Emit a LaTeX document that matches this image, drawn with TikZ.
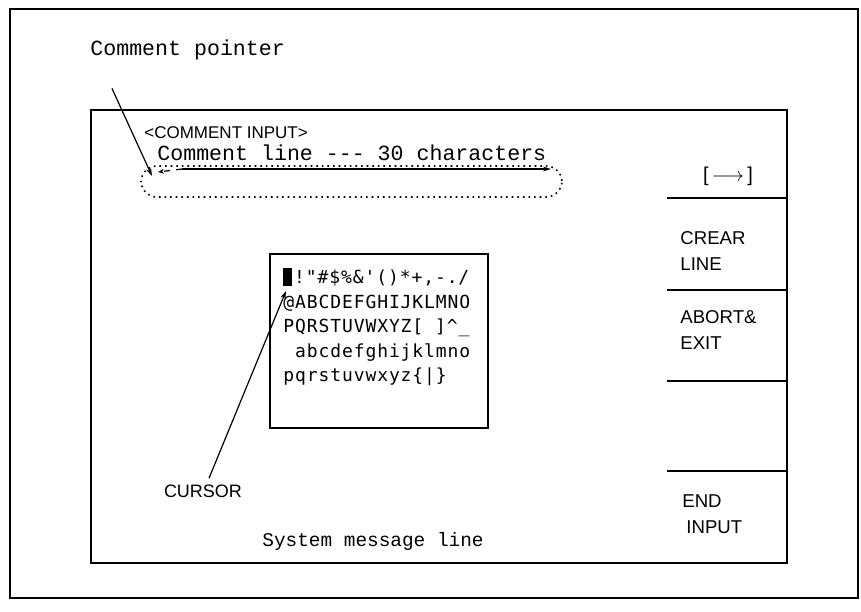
\documentclass[tikz,border=0pt]{standalone}
\usepackage{fontspec}
\setmainfont{Liberation Sans}
\newfontfamily\scrmono{Liberation Mono}
\newfontfamily\charmono[LetterSpace=5]{DejaVu Sans Mono}
\usetikzlibrary{arrows.meta, positioning}

\begin{document}
\begin{tikzpicture}[
  x=0.5pt, y=-0.5pt,
  frame/.style={draw, line width=1pt},
  keylabel/.style={inner sep=0pt, anchor=west, align=left, font=\fontsize{9.3}{13}\selectfont},
  monotext/.style={inner sep=0pt, anchor=west, font=\scrmono\fontsize{10.8}{12}\selectfont},
  chartable/.style={inner sep=0pt, anchor=north west, align=left, font=\charmono\fontsize{9}{12.2}\selectfont},
  ptr/.style={draw, line width=0.6pt, -{Stealth[length=4pt, width=2.6pt]}},
]
  \useasboundingbox (0,0) rectangle (861,611);
  % sheet and screen
  \draw[line width=1pt] (10,9) rectangle (858,598);
  \draw[frame] (91,110) rectangle (787,563);
  % function keys
  \foreach \ky in {198,290,381,471}
    \draw[line width=0.9pt] (667,\ky) -- (787,\ky);
  \node[inner sep=0pt, font=\fontsize{10}{11}\selectfont] (keyarrow) at (728,176) {[\,$\longrightarrow$\,]};
  \node[keylabel] (keyclear) at (680,251) {CREAR\\LINE};
  \node[keylabel] (keyabort) at (680,330) {ABORT\&\\EXIT};
  \node[keylabel] (keyend) at (682,514) {END\\\hspace{2pt}INPUT};

  % comment input area
  \node[monotext] (ptrlabel) at (90,50) {Comment pointer};
  \node[keylabel, font=\fontsize{8.5}{10}\selectfont] (title) at (144,133) {<COMMENT INPUT>};
  \node[monotext] (cmtline) at (157,153) {Comment line -{}-{}- 30 characters};
  \draw[dotted, line width=0.8pt, rounded corners=8pt] (141,166) rectangle (562,197);
  \coordinate (spanL) at (182,169);
  \coordinate (spanR) at (551,169);
  \coordinate (spanEnd) at (158,172);
  \draw[line width=0.8pt, -{Stealth[length=4pt, width=2.4pt]}] (spanL) -- (spanR);
  \draw[dashed, line width=0.6pt, -{Stealth[length=3pt, width=2.4pt]}] (spanL) -- (spanEnd);
  \coordinate (ptrtip) at (152,176);
  \draw[ptr] ([xshift=11pt, yshift=-14pt]ptrlabel.south west) -- (ptrtip);

  % character table
  \draw[line width=0.8pt] (270,254) rectangle (488,428);
  \node[chartable] (chars) at (283,268) {%
    \makebox[0.6em][l]{\rule[-0.14em]{0.45em}{1em}}!"\#\$\%\&'()*+,-./\\
    @ABCDEFGHIJKLMNO\\
    PQRSTUVWXYZ[ ]\textasciicircum\_\\
    \ abcdefghijklmno\\
    pqrstuvwxyz\{|\}};
  \node[inner sep=0pt, font=\fontsize{9}{10}\selectfont] (cursorlbl) at (203,491) {CURSOR};
  \coordinate (cursortip) at (286,291);
  \draw[ptr] ([xshift=3pt, yshift=3pt]cursorlbl.north) -- (cursortip);

  % message line
  \node[monotext, font=\scrmono\fontsize{9.7}{11}\selectfont] (sysmsg) at (262,541) {System message line};
\end{tikzpicture}
\end{document}
